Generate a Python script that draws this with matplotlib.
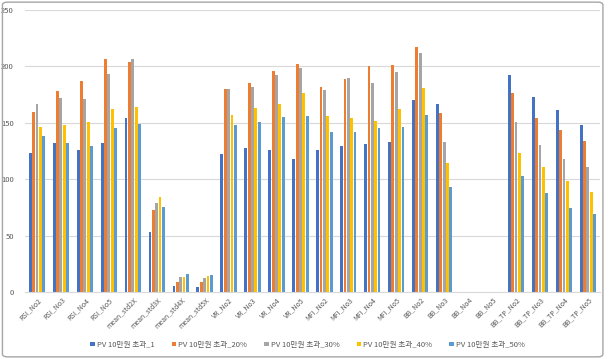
import numpy as np
import matplotlib
matplotlib.use('Agg')
import matplotlib.pyplot as plt
from matplotlib.patches import FancyBboxPatch

plt.rcParams['font.family'] = ['Noto Sans CJK KR', 'DejaVu Sans']

categories = ['RSI_No2', 'RSI_No3', 'RSI_No4', 'RSI_No5',
              'mean_std2X', 'mean_std3X', 'mean_std4X', 'mean_std5X',
              'VR_No2', 'VR_No3', 'VR_No4', 'VR_No5',
              'MFI_No2', 'MFI_No3', 'MFI_No4', 'MFI_No5',
              'BB_No2', 'BB_No3', 'BB_No4', 'BB_No5',
              'BB_TP_No2', 'BB_TP_No3', 'BB_TP_No4', 'BB_TP_No5']

series_names = ['PV 10만원 초과_1', 'PV 10만원 초과_20%', 'PV 10만원 초과_30%',
                'PV 10만원 초과_40%', 'PV 10만원 초과_50%']

s1 = [123, 132, 126, 132, 154, 53, 5.5, 4.5, 122, 128, 126, 118, 126, 129, 131, 133, 170, 167, 0, 0, 192, 173, 161, 148]
s20 = [160, 178, 187, 207, 204, 73, 8.5, 8.5, 180, 185, 196, 202, 182, 189, 200, 201, 217, 159, 0, 0, 176, 154, 144, 134]
s30 = [167, 172, 171, 193, 207, 79, 13, 12.5, 180, 182, 192, 199, 179, 190, 185, 195, 212, 133, 0, 0, 151, 130, 118, 111]
s40 = [146, 148, 151, 162, 164, 84, 13.5, 14, 157, 163, 167, 176, 156, 154, 152, 162, 181, 114, 0, 0, 123, 111, 98, 89]
s50 = [138, 132, 129, 145, 149, 75, 15.5, 15, 148, 151, 155, 156, 142, 142, 145, 146, 157, 93, 0, 0, 103, 88, 74, 69]

colors = ['#4472C4', '#ED7D31', '#A5A5A5', '#FFC000', '#5B9BD5']

fig = plt.figure(figsize=(6.09, 3.59), dpi=100)
ax = fig.add_axes([0.041, 0.187, 0.944, 0.785])

x = np.arange(len(categories))
w = 0.14
data = [s1, s20, s30, s40, s50]
for i, (vals, name) in enumerate(zip(data, series_names)):
    ax.bar(x + (i - 2) * w, vals, width=w * 0.85, color=colors[i], label=name, zorder=2)

ax.set_ylim(0, 250)
ax.set_xlim(-0.5, len(categories) - 0.5)
ax.set_yticks([0, 50, 100, 150, 200, 250])
ax.grid(axis='y', color='#D9D9D9', linewidth=0.8, zorder=0)
ax.tick_params(axis='y', labelsize=5.5, length=0, colors='#595959', pad=8)
ax.tick_params(axis='x', labelsize=5, length=0, colors='#595959', pad=3)
ax.set_xticks(x)
ax.set_xticklabels(categories, rotation=45, ha='right', rotation_mode='anchor')
for s in ['top', 'right', 'left']:
    ax.spines[s].set_visible(False)
ax.spines['bottom'].set_color('#D9D9D9')

fig.legend(loc='center', bbox_to_anchor=(0.505, 0.04), ncol=5, frameon=False,
           fontsize=5.5, handlelength=0.6, handleheight=0.6, columnspacing=2.2,
           handletextpad=0.3, labelcolor='#595959')

fig.patches.append(FancyBboxPatch((0.004, 0.006), 0.986, 0.988, boxstyle='round,pad=0,rounding_size=0.008',
                                  transform=fig.transFigure, fill=False, edgecolor='#A6A6A6', linewidth=1))

fig.savefig('out.png', dpi=100)
